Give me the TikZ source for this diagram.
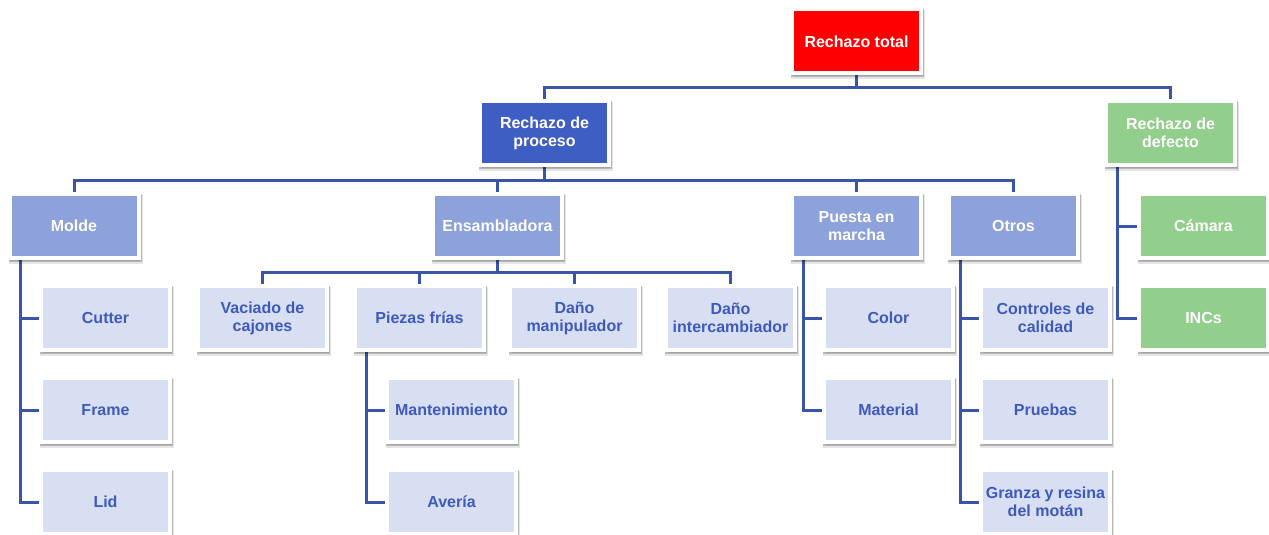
\documentclass[tikz,border=0pt]{standalone}
\usepackage{fontspec}
\setmainfont{Liberation Sans}
\usetikzlibrary{shadows,backgrounds,calc}
\definecolor{topred}{RGB}{255,0,0}
\definecolor{procblue}{RGB}{63,94,196}
\definecolor{midblue}{RGB}{141,161,218}
\definecolor{paleblue}{RGB}{216,223,242}
\definecolor{txtblue}{RGB}{62,90,190}
\definecolor{defgreen}{RGB}{146,206,140}
\definecolor{linkblue}{RGB}{58,84,170}
\tikzset{
  box/.style={rectangle, minimum width=129pt, minimum height=64pt, inner sep=0pt,
    draw=white, line width=4pt, align=center,
    font=\fontsize{16}{18}\selectfont\bfseries,
    general shadow={shadow xshift=1.5pt, shadow yshift=-3pt, opacity=0.1,
      fill=black, draw=black, line width=5pt},
    general shadow={shadow xshift=1pt, shadow yshift=-2pt, opacity=0.2,
      fill=black, draw=black, line width=4pt}},
  redbox/.style={box, fill=topred, text=white},
  procbox/.style={box, fill=procblue, text=white},
  midbox/.style={box, fill=midblue, text=white},
  leafbox/.style={box, fill=paleblue, text=txtblue},
  greenbox/.style={box, fill=defgreen, text=white},
  link/.style={draw=linkblue, line width=3pt}
}
\begin{document}
\begin{tikzpicture}[x=1pt, y=-1pt]
\useasboundingbox (0,0) rectangle (1269,535);

% levels of the tree
\node[redbox]   (tot)   at (856.5,41.5) {Rechazo total};
\node[procbox]  (proc)  at (544.5,133)  {Rechazo de\\proceso};
\node[greenbox] (def)   at (1170.5,133) {Rechazo de\\defecto};

\node[midbox]   (molde) at (74,226)     {Molde};
\node[midbox]   (ens)   at (497.5,226)  {Ensambladora};
\node[midbox]   (pem)   at (856.5,226)  {Puesta en\\marcha};
\node[midbox]   (otros) at (1013.5,226) {Otros};
\node[greenbox] (cam)   at (1203.5,226) {Cámara};

\node[leafbox]  (cutter) at (105.5,318) {Cutter};
\node[leafbox]  (vac)    at (262.5,318) {Vaciado de\\cajones};
\node[leafbox]  (pie)    at (419.5,318) {Piezas frías};
\node[leafbox]  (dman)   at (574.5,318) {Daño\\manipulador};
\node[leafbox]  (dint)   at (730.5,318) {Daño\\intercambiador};
\node[leafbox]  (color)  at (888.5,318) {Color};
\node[leafbox]  (ctrl)   at (1045.5,318) {Controles de\\calidad};
\node[greenbox] (incs)   at (1203.5,318) {INCs};

\node[leafbox]  (frame)  at (105.5,410) {Frame};
\node[leafbox]  (mant)   at (451.5,410) {Mantenimiento};
\node[leafbox]  (mat)    at (888.5,410) {Material};
\node[leafbox]  (prue)   at (1045.5,410) {Pruebas};

\node[leafbox]  (lid)    at (105.5,502) {Lid};
\node[leafbox]  (ave)    at (451.5,502) {Avería};
\node[leafbox]  (granza) at (1045.5,502) {Granza y resina\\del motán};

% heights of the horizontal bus lines
\coordinate (b1) at (0,87);
\coordinate (b2) at (0,180);
\coordinate (b3) at (0,272);

\begin{scope}[on background layer]
  \fill[white] (0,0) rectangle (1269,535);
  % top level
  \draw[link] (tot.south) -- (tot.south |- b1);
  \draw[link] (proc.north) |- (b1 -| def.north) -- (def.north);
  % process branches
  \draw[link] (proc.south) -- (proc.south |- b2);
  \draw[link] (molde.north) |- (b2 -| otros.north) -- (otros.north);
  \draw[link] (ens.north) -- (ens.north |- b2);
  \draw[link] (pem.north) -- (pem.north |- b2);
  % assembler branches
  \draw[link] (ens.south) -- (ens.south |- b3);
  \draw[link] (vac.north) |- (b3 -| dint.north) -- (dint.north);
  \draw[link] (pie.north) -- (pie.north |- b3);
  \draw[link] (dman.north) -- (dman.north |- b3);
  % side lists
  \foreach \p/\c in {molde/cutter, molde/frame, molde/lid,
                     pie/mant, pie/ave,
                     pem/color, pem/mat,
                     otros/ctrl, otros/prue, otros/granza,
                     def/cam, def/incs}
    \draw[link] ([xshift=13pt]\p.south west) |- (\c.west);
\end{scope}
\end{tikzpicture}
\end{document}
